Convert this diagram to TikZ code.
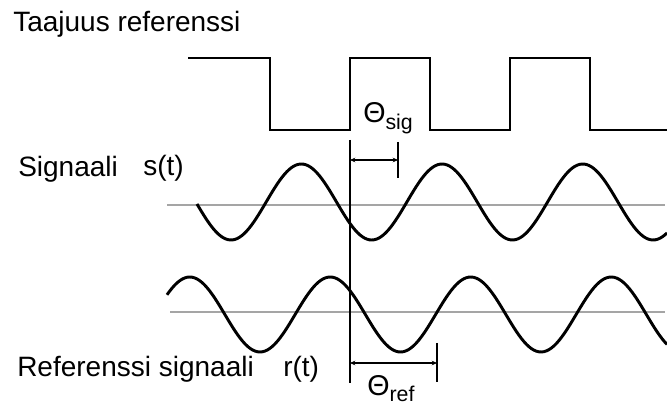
\documentclass[tikz,border=0pt]{standalone}
\usepackage{fontspec}
\setmainfont{Liberation Sans}
\usepackage{tikz}
\usetikzlibrary{arrows.meta, positioning}
\definecolor{mydark}{RGB}{0,0,0}
\definecolor{axisgray}{RGB}{165,165,165}
\tikzset{
  wave/.style={line width=2.2pt, color=mydark},
  axisline/.style={line width=1.8pt, color=axisgray},
  marker/.style={line width=2.2pt, color=mydark},
  dimarrow/.style={{Stealth[length=4pt,width=3.5pt]}-{Stealth[length=4pt,width=3.5pt]},
    line width=0.9pt, color=mydark},
  lbl/.style={anchor=base west, inner sep=0pt, font=\fontsize{21}{25}\selectfont},
  thlbl/.style={anchor=base west, inner sep=0pt, font=\fontsize{21.5}{25}\selectfont}
}
\newcommand{\thsub}[1]{\raisebox{-5pt}{\fontsize{16}{18}\selectfont #1}}

\begin{document}
\begin{tikzpicture}[x=0.75pt, y=-0.75pt]
  \useasboundingbox (0,0) rectangle (667,409);

  % Frequency reference
  \node[lbl] (freqlbl) at (13,32) {Taajuus referenssi};
  \draw[wave] (188,58) -- (270,58) -- (270,130) -- (350,130) -- (350,58)
    -- (430,58) -- (430,130) -- (510,130) -- (510,58) -- (590,58)
    -- (590,130) -- (667,130);

  % Signal s(t)
  \node[lbl] (siglbl) at (18,177) {Signaali};
  \node[lbl] (sigfn) at (143,176) {s(t)};
  \draw[axisline] (167,205) -- (665,205);
  \draw[wave, domain=197:667, samples=200, smooth, variable=\x]
    plot (\x, {202+38*cos((\x-231)*2.5586)});

  % Reference signal r(t)
  \node[lbl] (reflbl) at (17,377) {Referenssi signaali};
  \node[lbl] (reffn) at (283,376) {r(t)};
  \draw[axisline] (170,312) -- (665,312);
  \draw[wave, domain=167:667, samples=200, smooth, variable=\x]
    plot (\x, {314.5+37.5*cos((\x-260)*2.5623)});

  % Phase markers
  \coordinate (vtop) at (350,140);
  \coordinate (vbot) at (350,383);
  \coordinate (sigtop) at (398,142);
  \coordinate (sigbot) at (398,178);
  \coordinate (reftop) at (437,343);
  \coordinate (refbot) at (437,382);
  \draw[marker] (vtop) -- (vbot);
  \draw[marker] (sigtop) -- (sigbot);
  \draw[marker] (reftop) -- (refbot);

  \coordinate (sigA) at (350,160);
  \coordinate (sigB) at (398,160);
  \coordinate (refA) at (350,363);
  \coordinate (refB) at (437,363);
  \draw[dimarrow] (sigA) -- (sigB);
  \draw[dimarrow] (refA) -- (refB);

  \node[thlbl] (thsig) at (363,123) {Θ\thsub{sig}};
  \node[thlbl] (thref) at (367,395) {Θ\thsub{ref}};
\end{tikzpicture}
\end{document}
